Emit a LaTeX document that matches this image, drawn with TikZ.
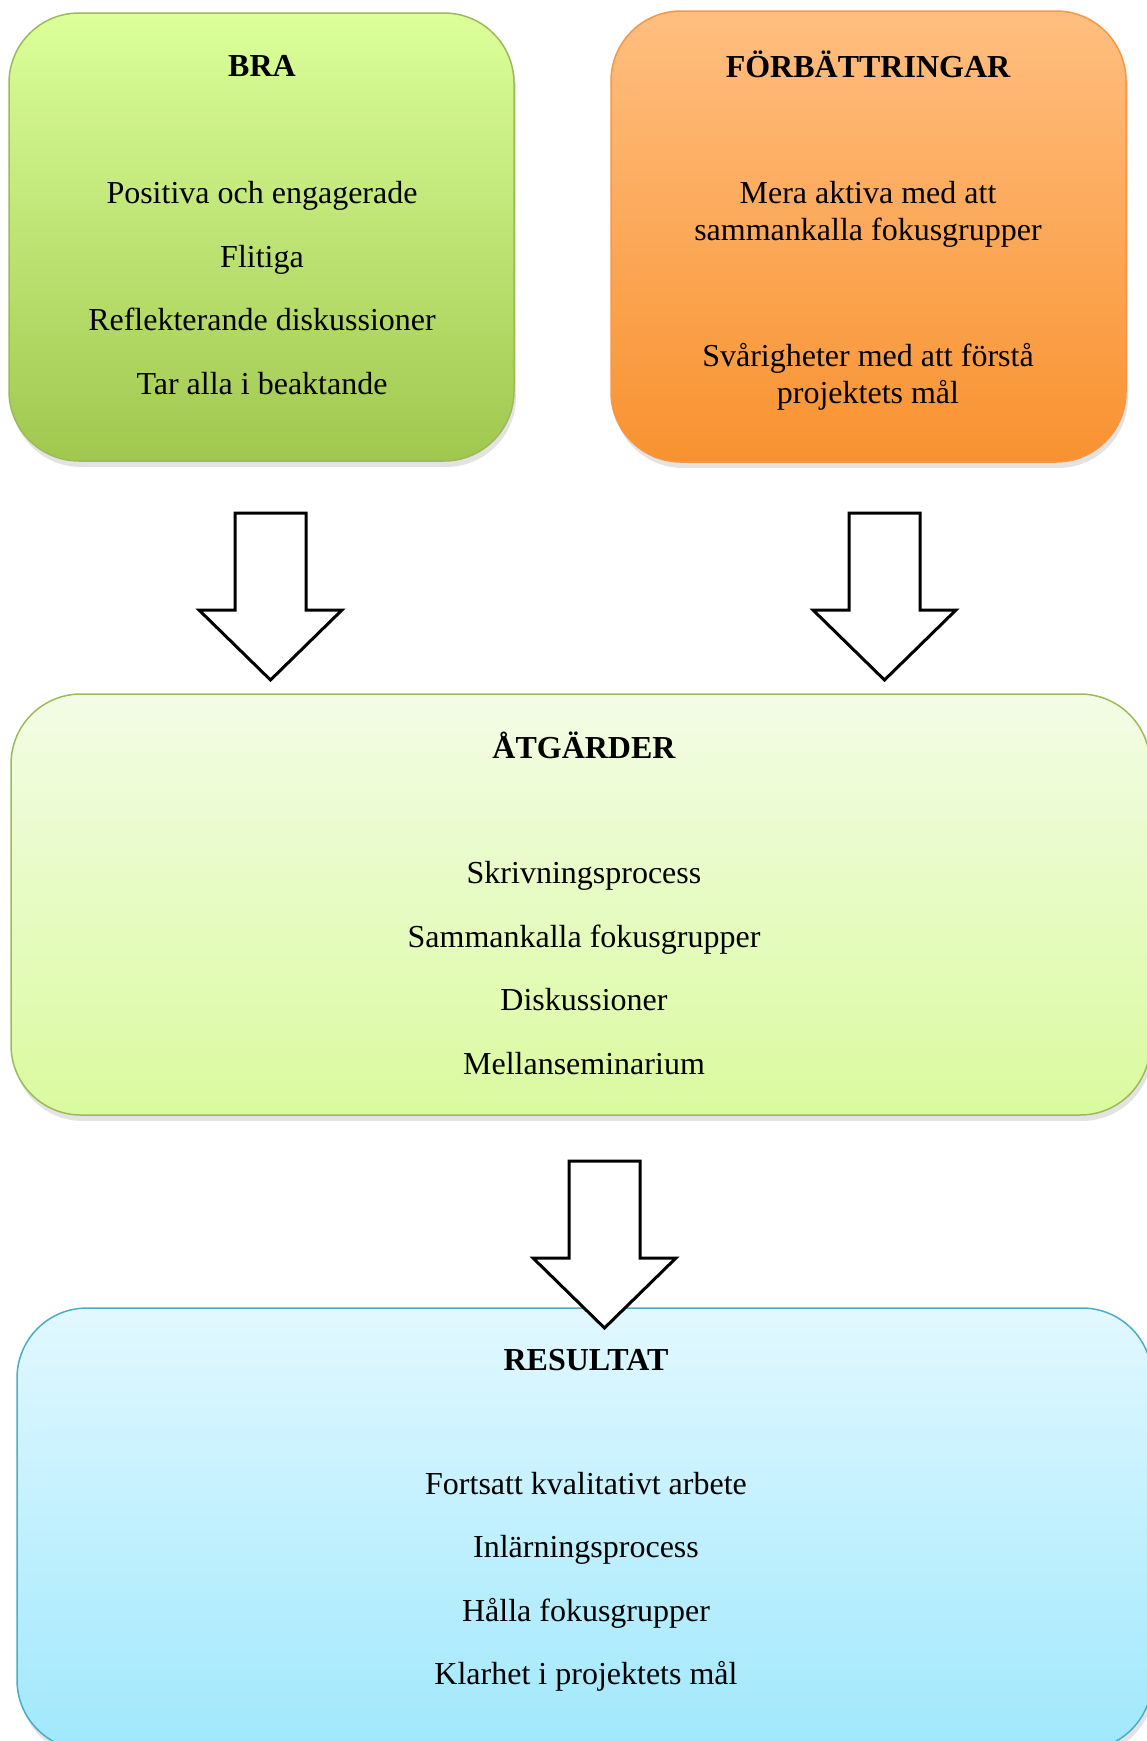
\documentclass[tikz,border=0pt]{standalone}
\usepackage{fontspec}
\setmainfont{Liberation Serif}
\usetikzlibrary{shadows}

\definecolor{braTop}{RGB}{220,255,155}
\definecolor{braBot}{RGB}{160,200,78}
\definecolor{braLine}{RGB}{155,187,89}
\definecolor{forbTop}{RGB}{255,190,128}
\definecolor{forbBot}{RGB}{248,146,48}
\definecolor{forbLine}{RGB}{247,150,70}
\definecolor{atgTop}{RGB}{243,252,230}
\definecolor{atgBot}{RGB}{218,250,158}
\definecolor{resTop}{RGB}{226,248,255}
\definecolor{resBot}{RGB}{160,232,252}
\definecolor{resLine}{RGB}{75,172,198}

\begin{document}
\begin{tikzpicture}[x=1pt,y=-1pt,
	box/.style={rounded corners=70pt,draw,line width=1.5pt,inner sep=0pt,outer sep=0pt,shading=axis,
		drop shadow={opacity=0.22,shadow xshift=2pt,shadow yshift=-6pt}},
	title/.style={font=\fontsize{32}{37}\selectfont\bfseries},
	body/.style={font=\fontsize{32}{37}\selectfont,align=center},
	blockarrow/.pic={\draw[line width=3pt,fill=white,line join=miter]
		(-35.5,0) -- (35.5,0) -- (35.5,97) -- (71.5,97) -- (0,167) -- (-71.5,97) -- (-35.5,97) -- cycle;}
	]
		\clip (0,0) rectangle (1147,1741);
		% top row
		\node[box,top color=braTop,bottom color=braBot,draw=braLine,minimum width=505pt,minimum height=448pt] (bra) at (261.5,237) {};
		\node[box,top color=forbTop,bottom color=forbBot,draw=forbLine,minimum width=515pt,minimum height=451pt] (forb) at (868.5,236.5) {};
		\node[title] (braTitle) at (262,66) {BRA};
		\node[body] (braBody) at (262,288) {Positiva och engagerade\\[26.5pt]Flitiga\\[26.5pt]Reflekterande diskussioner\\[26.5pt]Tar alla i beaktande};
		\node[title] (forbTitle) at (868,64) {FÖRBÄTTRINGAR};
		\node[body] (forbBody) at (868,295.5) {Mera aktiva med att\\sammankalla fokusgrupper\\[89pt]Svårigheter med att förstå\\projektets mål};
		% arrows
		\pic at (270.5,513) {blockarrow};
		\pic at (884.5,513) {blockarrow};
		% middle
		\node[box,top color=atgTop,bottom color=atgBot,draw=braLine,minimum width=1139pt,minimum height=421pt] (atg) at (580.5,904.5) {};
		\node[title] (atgTitle) at (584,745) {ÅTGÄRDER};
		\node[body] (atgBody) at (584,968) {Skrivningsprocess\\[26.5pt]Sammankalla fokusgrupper\\[26.5pt]Diskussioner\\[26.5pt]Mellanseminarium};
		% bottom
		\node[box,top color=resTop,bottom color=resBot,draw=resLine,minimum width=1135pt,minimum height=442pt] (res) at (584.5,1529) {};
		\node[title] (resTitle) at (586,1360) {RESULTAT};
		\node[body] (resBody) at (586,1582) {Fortsatt kvalitativt arbete\\[26.5pt]Inlärningsprocess\\[26.5pt]Hålla fokusgrupper\\[26.5pt]Klarhet i projektets mål};
		\pic at (604.5,1161) {blockarrow};
\end{tikzpicture}
\end{document}
